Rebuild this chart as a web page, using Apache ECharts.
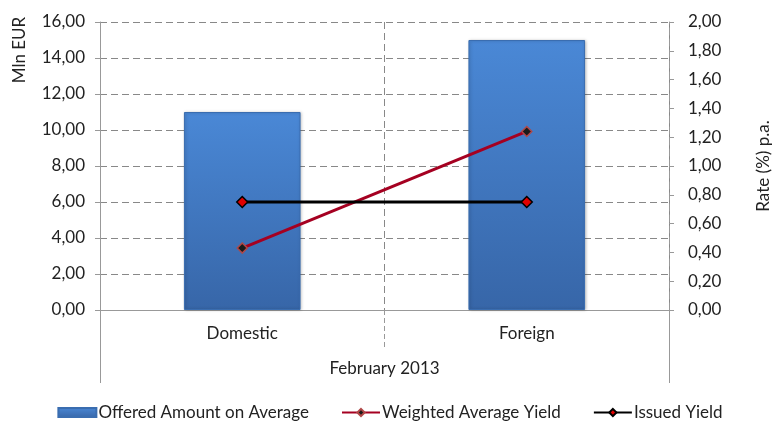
<!DOCTYPE html>
<html>
<head>
<meta charset="utf-8">
<script src="https://cdn.jsdelivr.net/npm/echarts@6/dist/echarts.min.js"></script>
<style>
  html, body { margin: 0; padding: 0; background: #fff; }
  #chart { width: 780px; height: 422px; }
</style>
</head>
<body>
<div id="chart"></div>
<script>
// data
const categories = ['Domestic', 'Foreign'];
const groupLabel = ['February 2013'];
const offeredAmount = [11.0, 15.0];      // Mln EUR
const weightedYield = [0.43, 1.24];      // %
const issuedYield = [0.75, 0.75];        // %

const font = 'Lato, "Open Sans", sans-serif';
const fs = 17;
const comma = v => v.toFixed(2).replace('.', ',');

let chart = echarts.init(document.getElementById('chart'));
chart.setOption({
    animation: false,
    textStyle: { fontFamily: font, color: '#222' },
    grid: { left: 100, right: 107, top: 22, bottom: 112 },
    graphic: [
        {
            type: 'text',
            x: 20, y: 50,
            rotation: Math.PI / 2,
            style: {
                text: 'Mln EUR', font: fs + 'px ' + font, fill: '#222',
                align: 'center', verticalAlign: 'middle'
            }
        }
    ],
    legend: {
        top: 399,
        left: 'center',
        itemWidth: 38,
        itemHeight: 9,
        itemGap: 32,
        textStyle: { fontFamily: font, fontSize: fs, color: '#222', padding: [0, 0, 0, -3] },
        data: [
            { name: 'Offered Amount on Average', icon: 'rect' },
            { name: 'Weighted Average Yield' },
            { name: 'Issued Yield' }
        ]
    },
    xAxis: [
        {
            type: 'category',
            data: categories,
            position: 'bottom',
            axisLine: { lineStyle: { color: '#999' } },
            axisTick: { show: true, interval: 0, length: 37, lineStyle: { color: '#999', type: [5, 3] } },
            axisLabel: { margin: 15, fontSize: fs, color: '#222', fontFamily: font },
            splitLine: { show: true, lineStyle: { color: '#888', type: [7, 4] } }
        },
        {
            // group label row: its two edge ticks make the outer frame lines
            type: 'category',
            data: groupLabel,
            position: 'bottom',
            axisLine: { show: false },
            axisTick: { show: true, interval: 0, length: 73, lineStyle: { color: '#999' } },
            axisLabel: { margin: 50, fontSize: fs, color: '#222', fontFamily: font },
            splitLine: { show: false }
        }
    ],
    yAxis: [
        {
            type: 'value',
            min: 0, max: 16, interval: 2,
            axisLine: { show: true, lineStyle: { color: '#999' } },
            axisTick: { show: true, length: 5, lineStyle: { color: '#999' } },
            axisLabel: { formatter: comma, fontSize: fs, color: '#222', margin: 15 },
            splitLine: { lineStyle: { color: '#888', type: [7, 4] } }
        },
        {
            type: 'value',
            min: 0, max: 2, interval: 0.2,
            name: 'Rate (%) p.a.',
            nameLocation: 'middle',
            nameRotate: 90,
            nameGap: 86,
            nameTextStyle: { fontSize: fs, color: '#222' },
            axisLine: { show: true, lineStyle: { color: '#999', type: [7, 4] } },
            axisTick: { show: true, length: 5, lineStyle: { color: '#999' } },
            axisLabel: { formatter: comma, fontSize: fs, color: '#222', margin: 19 },
            splitLine: { show: false }
        }
    ],
    series: [
        {
            name: 'Offered Amount on Average',
            type: 'bar',
            barWidth: '41%',
            itemStyle: {
                color: new echarts.graphic.LinearGradient(0, 0, 0, 1, [
                    { offset: 0, color: '#4a88d6' },
                    { offset: 1, color: '#3766a8' }
                ]),
                borderColor: '#3a6db0',
                borderWidth: 1,
                shadowColor: 'rgba(0,0,0,0.25)',
                shadowBlur: 3,
                shadowOffsetX: 1
            },
            data: offeredAmount
        },
        {
            name: 'Weighted Average Yield',
            type: 'line',
            yAxisIndex: 1,
            symbol: 'diamond',
            symbolSize: 10,
            lineStyle: { color: '#a50021', width: 3 },
            itemStyle: { color: '#1a1a1a', borderColor: '#b04848', borderWidth: 1.5 },
            data: weightedYield
        },
        {
            name: 'Issued Yield',
            type: 'line',
            yAxisIndex: 1,
            symbol: 'diamond',
            symbolSize: 11,
            lineStyle: { color: '#000', width: 3 },
            itemStyle: { color: '#e00000', borderColor: '#000', borderWidth: 1.5 },
            data: issuedYield
        }
    ]
});
window.onresize = function () {
    chart.resize();
};
</script>
</body>
</html>
